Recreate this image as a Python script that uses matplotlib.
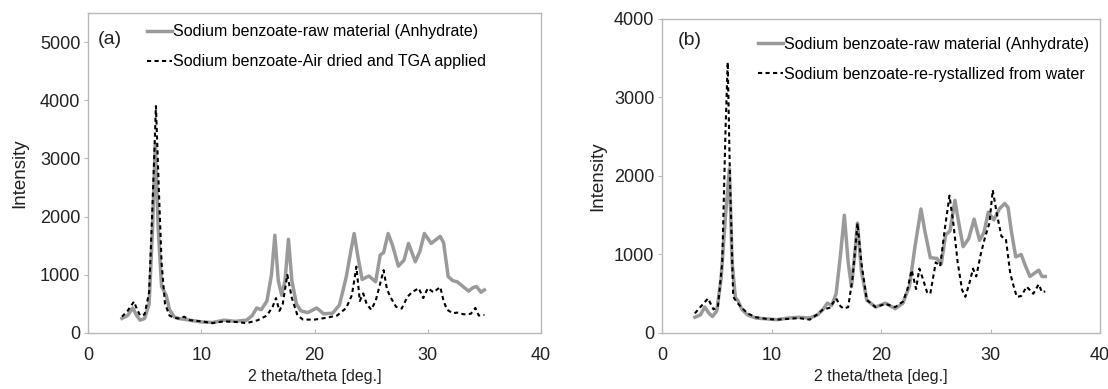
"""XRD patterns of sodium benzoate, panels (a) and (b)"""

import matplotlib
matplotlib.use("Agg")
import matplotlib.pyplot as plt

plt.rcParams['font.family'] = ['Liberation Sans', 'DejaVu Sans']

# data

# panel (a) raw material (anhydrate)
A_RAW_X = [3.0, 3.5, 3.95, 4.3, 4.6, 5.0, 5.4, 5.7, 5.95, 6.2,
           6.5, 6.9, 7.2, 7.6, 8.0, 9.0, 10.0, 11.0, 12.0, 13.0,
           14.0, 14.5, 14.9, 15.3, 15.8, 16.2, 16.5, 16.8, 17.1, 17.4,
           17.7, 18.0, 18.4, 18.8, 19.4, 20.2, 20.8, 21.6, 22.2, 22.8,
           23.2, 23.5, 23.8, 24.2, 24.8, 25.4, 25.8, 26.1, 26.5, 26.9,
           27.4, 27.9, 28.3, 28.9, 29.3, 29.7, 30.3, 30.7, 31.1, 31.4,
           31.8, 32.2, 32.6, 33.1, 33.6, 34.0, 34.3, 34.7, 35.0]
A_RAW_Y = [250, 300, 430, 300, 220, 250, 500, 1800, 3250, 1800,
           800, 650, 400, 280, 250, 220, 190, 180, 220, 200,
           220, 300, 430, 400, 550, 1000, 1680, 900, 650, 900,
           1610, 900, 500, 380, 350, 430, 330, 340, 480, 960,
           1400, 1710, 1350, 920, 980, 880, 1340, 1380, 1710, 1500,
           1150, 1250, 1540, 1225, 1400, 1710, 1540, 1600, 1660, 1550,
           970, 900, 880, 800, 720, 780, 800, 700, 740]

# panel (a) air dried and TGA applied
A_DRY_X = [3.0, 3.5, 4.06, 4.3, 4.6, 5.0, 5.4, 5.7, 6.0, 6.25,
           6.5, 6.8, 7.2, 7.6, 8.0, 8.5, 9.0, 10.0, 11.0, 12.0,
           13.0, 14.0, 15.0, 15.8, 16.3, 16.6, 16.9, 17.2, 17.6, 18.0,
           18.5, 19.0, 20.0, 21.0, 22.0, 22.8, 23.3, 23.7, 24.0, 24.3,
           24.6, 25.0, 25.4, 25.8, 26.1, 26.4, 26.7, 27.2, 27.7, 28.2,
           28.6, 29.2, 29.6, 30.0, 30.5, 31.1, 31.4, 31.7, 32.2, 32.6,
           33.2, 33.8, 34.2, 34.5, 35.0]
A_DRY_Y = [280, 380, 540, 420, 300, 320, 700, 2200, 3900, 2500,
           1200, 500, 300, 260, 250, 280, 220, 200, 170, 200,
           190, 170, 220, 300, 450, 600, 380, 500, 1000, 600,
           300, 230, 230, 260, 300, 430, 650, 1140, 550, 680,
           500, 400, 550, 850, 1080, 750, 620, 450, 420, 620,
           700, 770, 600, 770, 700, 790, 550, 400, 340, 350,
           320, 330, 430, 300, 310]

# panel (b) raw material (anhydrate)
B_RAW_X = [3.0, 3.5, 3.9, 4.3, 4.6, 5.0, 5.4, 5.8, 6.15, 6.4,
           6.7, 6.9, 7.3, 7.8, 8.6, 9.5, 10.5, 11.5, 12.5, 13.5,
           14.2, 14.7, 15.1, 15.5, 15.9, 16.3, 16.65, 17.0, 17.3, 17.6,
           17.85, 18.2, 18.7, 19.5, 20.4, 21.3, 22.0, 22.6, 23.1, 23.65,
           24.0, 24.5, 25.1, 25.5, 25.9, 26.3, 26.75, 27.1, 27.5, 28.0,
           28.5, 29.0, 29.4, 29.8, 30.3, 30.8, 31.3, 31.6, 31.9, 32.3,
           32.8, 33.2, 33.6, 34.0, 34.4, 34.7, 35.0]
B_RAW_Y = [200, 230, 330, 250, 210, 280, 700, 1500, 2090, 900,
           450, 420, 300, 230, 190, 180, 170, 190, 200, 190,
           230, 300, 380, 350, 500, 1000, 1500, 900, 590, 1000,
           1400, 800, 420, 330, 380, 310, 380, 600, 1100, 1580,
           1300, 960, 950, 880, 1250, 1300, 1690, 1400, 1100, 1200,
           1450, 1180, 1280, 1540, 1440, 1580, 1650, 1600, 1300, 970,
           1000, 850, 720, 760, 800, 720, 720]

# panel (b) re-crystallized from water
B_REC_X = [3.0, 3.5, 4.2, 4.7, 5.1, 5.5, 5.8, 6.0, 6.2, 6.5,
           6.9, 7.3, 7.8, 8.6, 9.5, 10.5, 11.5, 12.5, 13.5, 14.2,
           14.7, 15.3, 15.9, 16.3, 16.6, 17.0, 17.4, 17.85, 18.2, 18.7,
           19.5, 20.4, 21.3, 22.0, 22.4, 22.8, 23.2, 23.5, 23.8, 24.2,
           24.5, 25.0, 25.4, 25.8, 26.25, 26.6, 27.0, 27.4, 27.7, 28.1,
           28.4, 28.7, 29.1, 29.5, 29.9, 30.2, 30.6, 31.0, 31.4, 31.8,
           32.1, 32.4, 32.8, 33.3, 33.9, 34.4, 34.7, 35.0]
B_REC_Y = [250, 330, 440, 300, 330, 900, 2600, 3450, 2000, 460,
           380, 320, 250, 200, 180, 170, 180, 190, 170, 240,
           300, 320, 440, 340, 310, 330, 700, 1400, 900, 420,
           330, 370, 330, 400, 550, 800, 560, 820, 700, 520,
           500, 900, 850, 1300, 1750, 1400, 900, 550, 460, 650,
           820, 720, 1000, 1220, 1400, 1820, 1500, 1230, 1200, 760,
           600, 460, 470, 590, 500, 620, 520, 530]

RAW_LABEL = "Sodium benzoate-raw material (Anhydrate)"
A_DRY_LABEL = "Sodium benzoate-Air dried and TGA applied"
B_REC_LABEL = "Sodium benzoate-re-rystallized from water"

GRAY = '#9a9a9a'
SPINE = '#b8b8b8'
TXT = '#222222'

# figure

fig = plt.figure(figsize=(11.08, 3.89), dpi=100)
ax_a = fig.add_axes([0.0794, 0.144, 0.4089, 0.8226])
ax_b = fig.add_axes([0.5975, 0.144, 0.3953, 0.8072])


def style_axes(ax, ymax, ystep):
  ax.set_xlim(0, 40)
  ax.set_ylim(0, ymax)
  ax.set_xticks(range(0, 41, 10))
  ax.set_yticks(range(0, ymax + 1, ystep))
  for sp in ax.spines.values():
    sp.set_color(SPINE)
    sp.set_linewidth(1.0)
  ax.tick_params(axis='x', direction='in', length=3, color=SPINE,
                 labelsize=13, labelcolor=TXT, pad=10)
  ax.tick_params(axis='y', direction='out', length=3, color=SPINE,
                 labelsize=13, labelcolor=TXT, pad=2.5)
  ax.set_xlabel("2 theta/theta [deg.]", fontsize=11.5, color=TXT, labelpad=4)
  ax.set_ylabel("Intensity", fontsize=13.5, color=TXT)


def add_legend(ax, x0, y0):
  ax.legend(loc='upper left', bbox_to_anchor=(x0, y0), frameon=False,
            fontsize=11.5, handlelength=1.55, handletextpad=0.1,
            borderpad=0.0, labelspacing=0.95, borderaxespad=0.0)


# (a)
ax_a.plot(A_RAW_X, A_RAW_Y, color=GRAY, lw=2.5, label=RAW_LABEL,
          solid_joinstyle='round')
ax_a.plot(A_DRY_X, A_DRY_Y, color='black', lw=1.5, ls=(0, (2, 1.6)),
          label=A_DRY_LABEL)
style_axes(ax_a, 5500, 1000)
ax_a.yaxis.set_label_coords(-0.132, 0.5)
ax_a.text(0.022, 0.916, "(a)", transform=ax_a.transAxes, fontsize=14,
          color=TXT, va='center', ha='left')
add_legend(ax_a, 0.130, 0.965)

# (b)
ax_b.plot(B_RAW_X, B_RAW_Y, color=GRAY, lw=2.5, label=RAW_LABEL,
          solid_joinstyle='round')
ax_b.plot(B_REC_X, B_REC_Y, color='black', lw=1.5, ls=(0, (2, 1.6)),
          label=B_REC_LABEL)
style_axes(ax_b, 4000, 1000)
ax_b.yaxis.set_label_coords(-0.128, 0.5)
ax_b.text(0.037, 0.933, "(b)", transform=ax_b.transAxes, fontsize=14,
          color=TXT, va='center', ha='left')
add_legend(ax_b, 0.219, 0.943)

fig.savefig("out.png", dpi=100)
